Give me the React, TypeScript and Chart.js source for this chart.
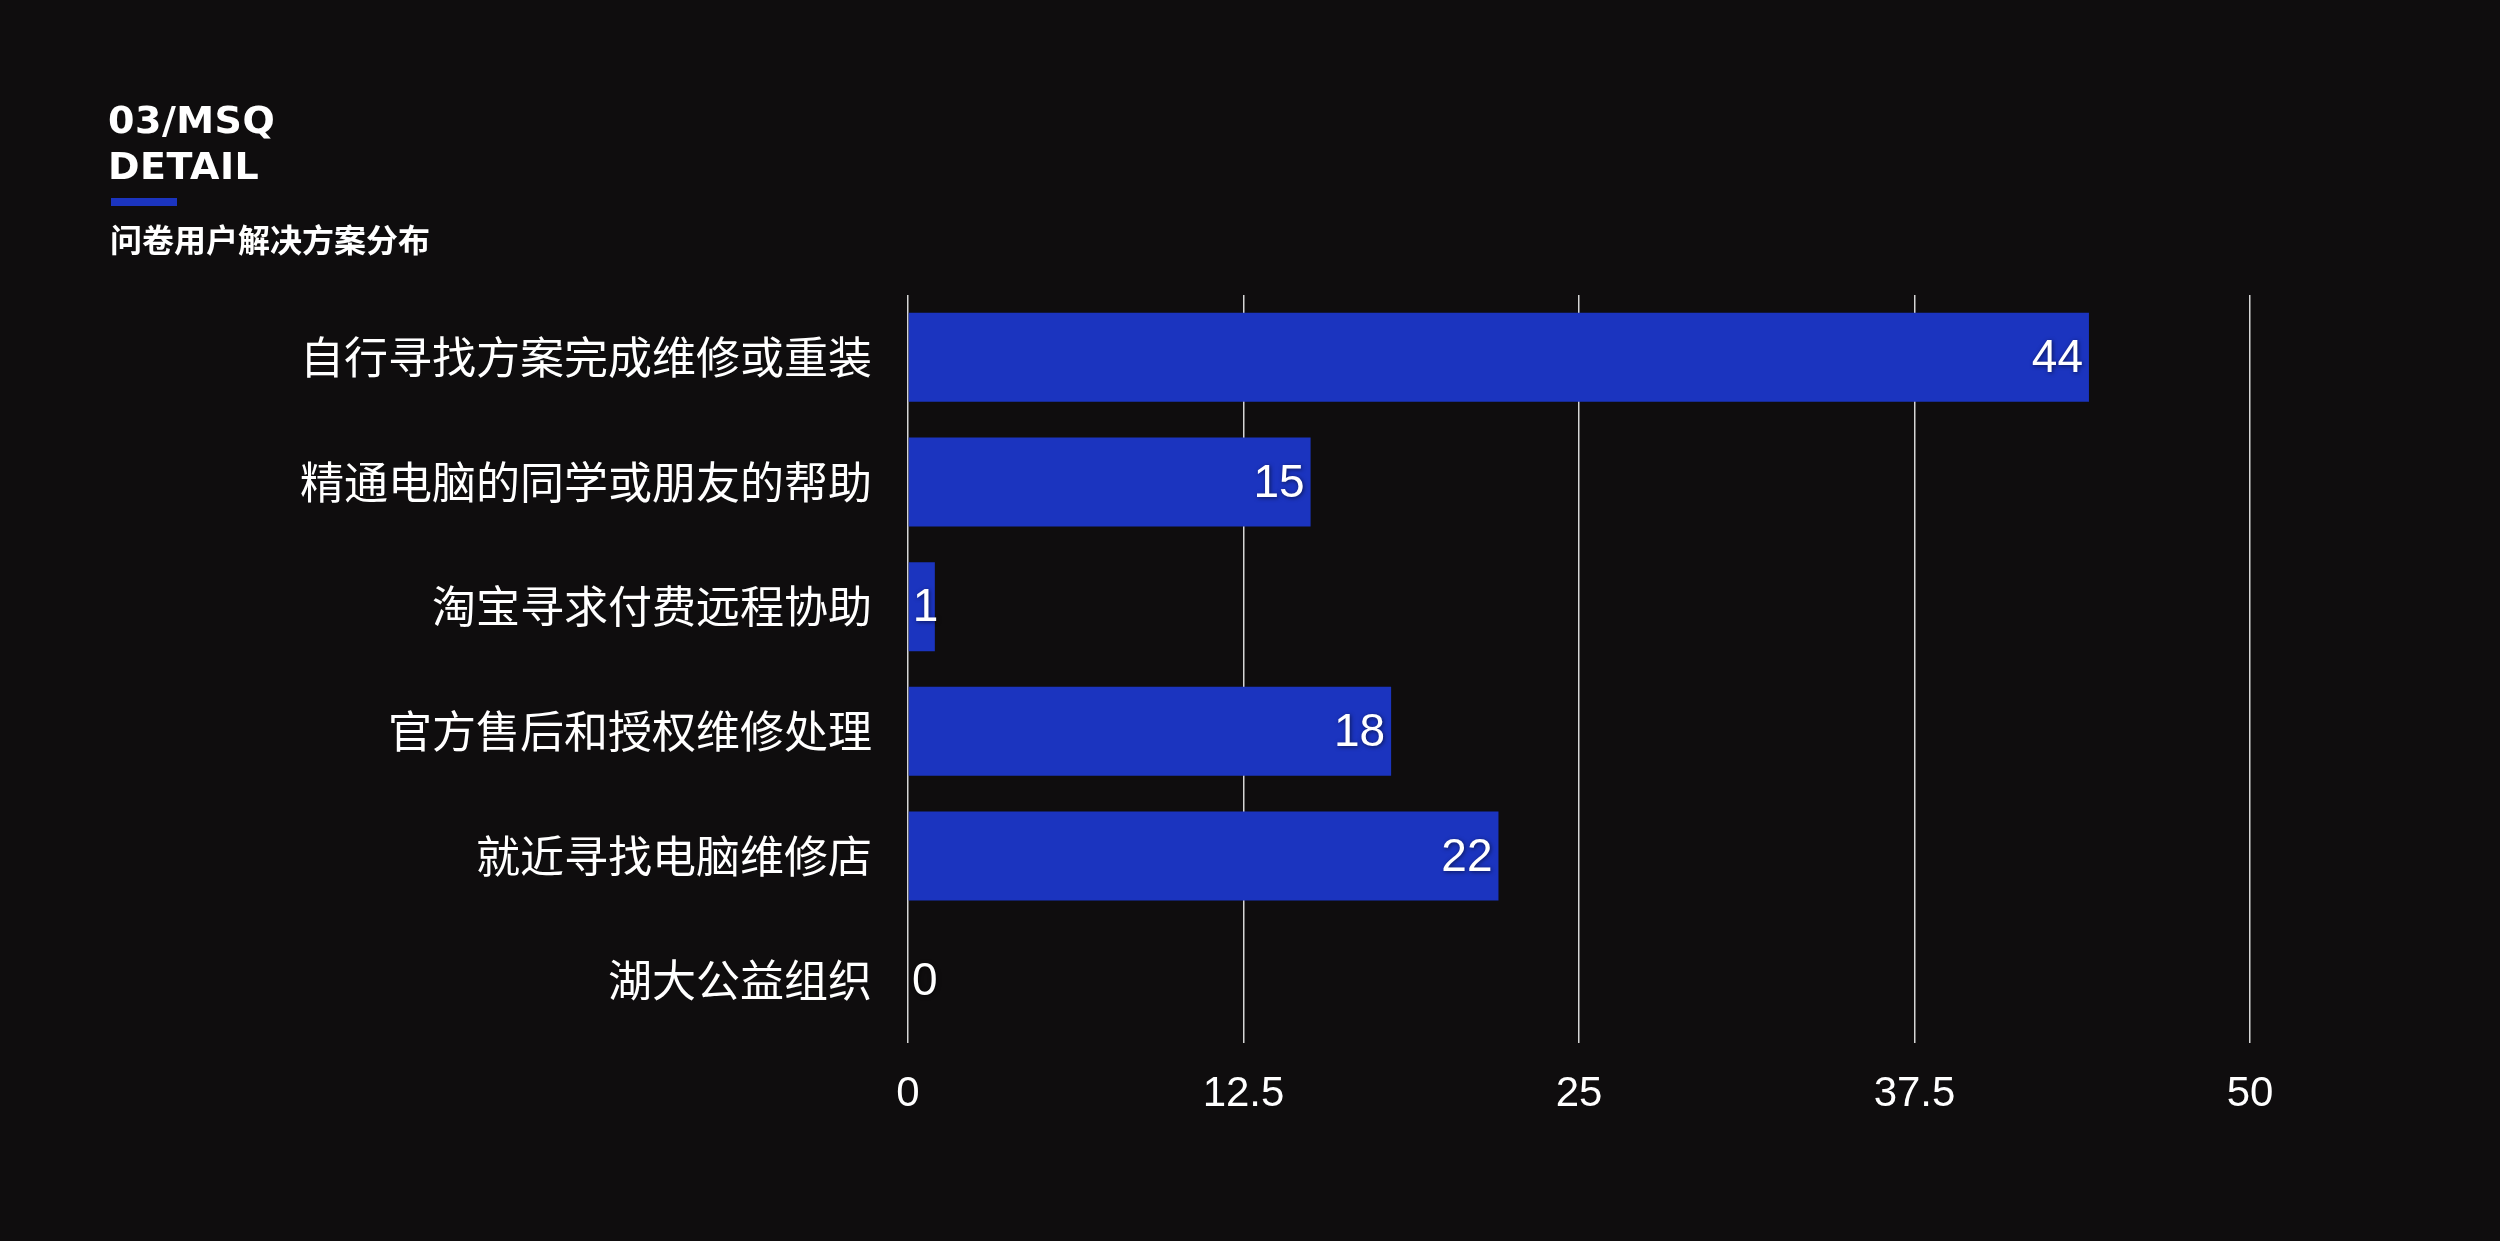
import React, { useEffect, useRef } from "react";
import { Chart, registerables } from "chart.js";

Chart.register(...registerables);

const categories = [
  "自行寻找方案完成维修或重装",
  "精通电脑的同学或朋友的帮助",
  "淘宝寻求付费远程协助",
  "官方售后和授权维修处理",
  "就近寻找电脑维修店",
  "湖大公益组织",
];
const values = [44, 15, 1, 18, 22, 0];
const xMin = 0;
const xMax = 50;
const xStep = 12.5;

const titleLines = ["03/MSQ", "DETAIL"];
const subtitle = "问卷用户解决方案分布";

const BG = "#0f0d0e";
const BLUE = "#1b34bf";

const valueLabelPlugin = {
  id: "valueLabels",
  afterDatasetsDraw(chart: any) {
    const ctx = chart.ctx;
    const meta = chart.getDatasetMeta(0);
    ctx.save();
    ctx.font = "46px 'Liberation Sans', Arial, sans-serif";
    ctx.fillStyle = "#ffffff";
    ctx.textBaseline = "middle";
    ctx.textAlign = "left";
    ctx.shadowColor = "rgba(0,0,0,0.55)";
    ctx.shadowBlur = 4;
    ctx.shadowOffsetX = 1;
    ctx.shadowOffsetY = 1;
    meta.data.forEach((bar: any, i: number) => {
      const txt = String(values[i]);
      const w = ctx.measureText(txt).width;
      const x = Math.max(bar.x - 6 - w, bar.base + 4);
      ctx.fillText(txt, x, bar.y + 2);
    });
    ctx.restore();
  },
};

function BarChart() {
  const ref = useRef<HTMLCanvasElement | null>(null);
  useEffect(() => {
    if (!ref.current) return;
    const chart = new Chart(ref.current, {
      type: "bar",
      data: {
        labels: categories,
        datasets: [
          {
            data: values,
            backgroundColor: BLUE,
            borderWidth: 0,
            categoryPercentage: 1,
            barPercentage: 0.714,
          },
        ],
      },
      options: {
        indexAxis: "y",
        responsive: false,
        animation: false,
        devicePixelRatio: 1,
        layout: { padding: { top: 295, right: 250, bottom: 0, left: 0 } },
        plugins: {
          legend: { display: false },
          tooltip: { enabled: false },
          title: { display: false },
        },
        scales: {
          x: {
            min: xMin,
            max: xMax,
            ticks: {
              stepSize: xStep,
              color: "#ffffff",
              padding: 26,
              font: { family: "'Liberation Sans', Arial, sans-serif", size: 42 },
            },
            grid: {
              color: "rgba(235,235,235,0.9)",
              lineWidth: 1.5,
              drawTicks: false,
            },
            border: { display: false },
            afterFit(scale: any) {
              scale.height = 198;
            },
          },
          y: {
            ticks: {
              color: "#ffffff",
              padding: 36,
              font: { family: "'Noto Sans CJK SC', sans-serif", size: 44 },
            },
            grid: { display: false, drawTicks: false },
            border: { display: false },
            afterFit(scale: any) {
              scale.width = 908;
            },
          },
        },
      },
      plugins: [valueLabelPlugin],
    } as any);
    return () => chart.destroy();
  }, []);
  return (
    <canvas
      ref={ref}
      width={2500}
      height={1241}
      style={{ position: "absolute", left: 0, top: 0, display: "block" }}
    />
  );
}

export default function App() {
  return (
    <div
      style={{
        position: "fixed",
        left: 0,
        top: 0,
        width: 2500,
        height: 1241,
        background: BG,
        overflow: "hidden",
      }}
    >
      <BarChart />
      <div
        style={{
          position: "absolute",
          left: 108,
          top: 97,
          color: "#ffffff",
          fontFamily: "'DejaVu Sans', sans-serif",
          fontWeight: 700,
          fontSize: 38,
          lineHeight: "46px",
          letterSpacing: 0.5,
        }}
      >
        {titleLines.map((t) => (
          <div key={t}>{t}</div>
        ))}
      </div>
      <div
        style={{
          position: "absolute",
          left: 111,
          top: 198,
          width: 66,
          height: 8,
          background: BLUE,
        }}
      />
      <div
        style={{
          position: "absolute",
          left: 110,
          top: 222,
          color: "#ffffff",
          fontFamily: "'Noto Sans CJK SC', sans-serif",
          fontWeight: 700,
          fontSize: 32,
          lineHeight: "32px",
          whiteSpace: "nowrap",
        }}
      >
        {subtitle}
      </div>
    </div>
  );
}
